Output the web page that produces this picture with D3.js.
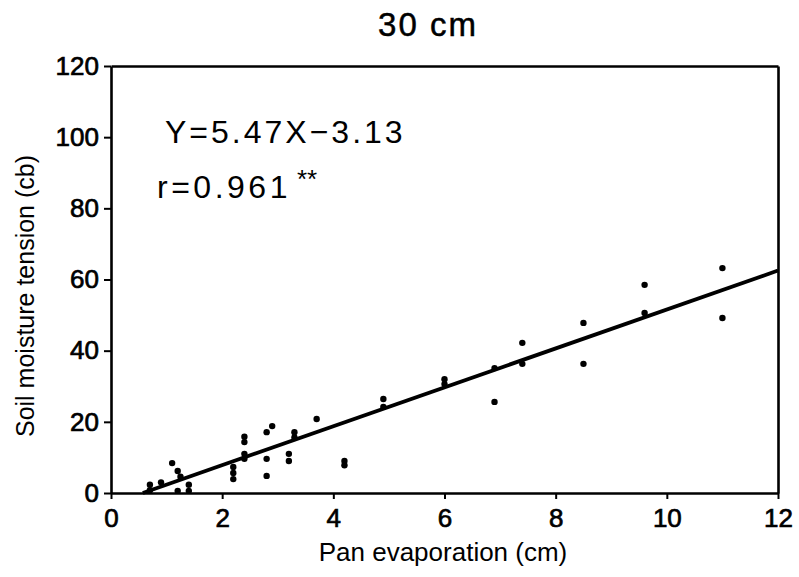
<!DOCTYPE html>
<html>
<head>
<meta charset="utf-8">
<script src="https://cdn.jsdelivr.net/npm/d3@7"></script>
<style>
  body { margin: 0; background: #fff; }
  text { font-family: "Liberation Sans", Arial, sans-serif; fill: #000; }
</style>
</head>
<body>
<svg id="chart"></svg>
<script>
// pan evaporation (cm) vs soil moisture tension (cb), 30 cm depth
const panEvap = [0.7, 0.7, 0.9, 1.1, 1.2, 1.25, 1.2, 1.4, 1.4,
  2.2, 2.2, 2.2, 2.4, 2.4, 2.4, 2.4, 2.8, 2.9, 2.8, 2.8,
  3.2, 3.2, 3.3, 3.3, 3.7, 4.2, 4.2, 4.9, 4.9, 6.0, 6.0,
  6.9, 6.9, 7.4, 7.4, 8.5, 8.5, 9.6, 9.6, 11.0, 11.0];
const tension = [2.3, 0.8, 3.0, 8.4, 6.2, 4.6, 0.6, 2.3, 0.6,
  7.3, 5.6, 3.9, 15.8, 14.3, 11.0, 9.6, 17.1, 18.8, 9.6, 4.8,
  11.0, 9.0, 17.1, 15.6, 20.8, 9.0, 7.8, 26.4, 24.2, 32.0, 30.6,
  35.1, 25.6, 42.2, 36.3, 47.8, 36.3, 58.5, 50.6, 63.2, 49.2];
const xTicks = [0, 2, 4, 6, 8, 10, 12];
const yTicks = [0, 20, 40, 60, 80, 100, 120];
const slope = 5.47, intercept = -3.13;

const width = 799, height = 577;
const margin = { top: 66, right: 21, bottom: 84, left: 111 };

const svg = d3.select('#chart').attr('width', width).attr('height', height);

const x = d3.scaleLinear().domain([0, 12]).range([margin.left, width - margin.right]);
const y = d3.scaleLinear().domain([0, 120]).range([height - margin.bottom, margin.top]);

const styleAxis = g => {
  g.select('.domain').attr('stroke-width', 2.6);
  g.selectAll('.tick line').attr('stroke-width', 2);
  g.selectAll('.tick text')
    .style('font-size', '26px')
    .attr('stroke', '#000').attr('stroke-width', 0.7);
};

svg.append('g')
  .attr('transform', `translate(0,${y(0)})`)
  .call(d3.axisBottom(x).tickValues(xTicks).tickSize(6).tickSizeOuter(0).tickPadding(10))
  .call(styleAxis);

svg.append('g')
  .attr('transform', `translate(${x(0)},0)`)
  .call(d3.axisLeft(y).tickValues(yTicks).tickSize(7).tickSizeOuter(0).tickPadding(5))
  .call(styleAxis);

// frame top and right
svg.append('g')
  .attr('transform', `translate(0,${y(120)})`)
  .call(d3.axisTop(x).tickValues([]).tickSizeOuter(0))
  .call(styleAxis);
svg.append('g')
  .attr('transform', `translate(${x(12)},0)`)
  .call(d3.axisRight(y).tickValues([]).tickSizeOuter(0))
  .call(styleAxis);

// regression line
const x0 = -intercept / slope;
svg.append('line')
  .attr('x1', x(x0)).attr('y1', y(0))
  .attr('x2', x(12)).attr('y2', y(slope * 12 + intercept))
  .attr('stroke', '#000').attr('stroke-width', 3.8);

svg.append('g')
  .selectAll('circle')
  .data(panEvap.map((d, i) => [d, tension[i]]))
  .join('circle')
  .attr('cx', d => x(d[0]))
  .attr('cy', d => y(d[1]))
  .attr('r', 3.2)
  .attr('fill', '#000');

// labels
svg.append('text')
  .attr('x', 428).attr('y', 36)
  .attr('text-anchor', 'middle')
  .style('font-size', '33px').style('letter-spacing', '2px')
  .attr('stroke', '#000').attr('stroke-width', 0.5)
  .text('30 cm');

svg.append('text')
  .attr('x', 443).attr('y', 561)
  .attr('text-anchor', 'middle')
  .style('font-size', '26px')
  .text('Pan evaporation (cm)');

svg.append('text')
  .attr('transform', 'translate(34,296) rotate(-90)')
  .attr('text-anchor', 'middle')
  .style('font-size', '25px')
  .text('Soil moisture tension (cb)');

svg.append('text')
  .attr('x', 165).attr('y', 143)
  .style('font-size', '32px').style('letter-spacing', '3px')
  .text('Y=5.47X\u22123.13');

const rText = svg.append('text')
  .attr('x', 157).attr('y', 198)
  .style('font-size', '32px').style('letter-spacing', '3.5px');
rText.append('tspan').text('r=0.961');
rText.append('tspan')
  .attr('dx', 6).attr('dy', -10)
  .style('font-size', '26px').style('letter-spacing', '0px')
  .text('**');
</script>
</body>
</html>
